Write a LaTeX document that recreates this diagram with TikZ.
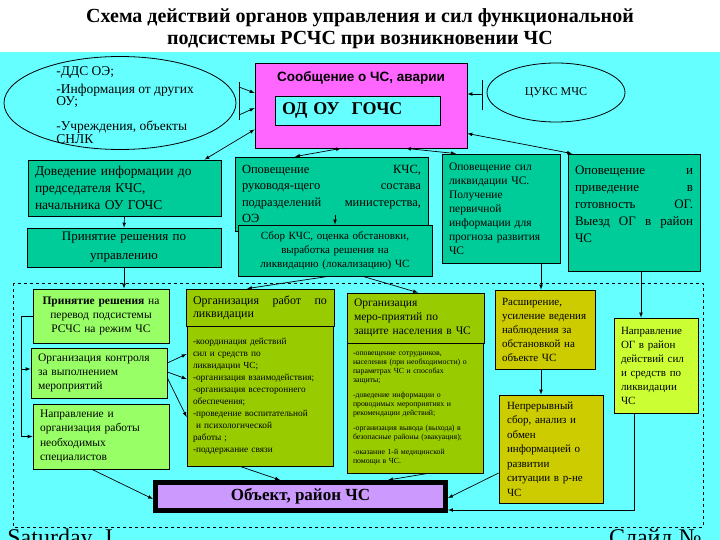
\documentclass[tikz,border=0pt]{standalone}
\usepackage{fontspec}
\setmainfont{Liberation Serif}
\setsansfont{Liberation Sans}
\usetikzlibrary{shapes.geometric}

\definecolor{bgcyan}{HTML}{66FFFF}
\definecolor{msgpink}{HTML}{FF66FF}
\definecolor{tgreen}{HTML}{00CC99}
\definecolor{lgreen}{HTML}{99FF66}
\definecolor{cololive}{HTML}{99CC00}
\definecolor{ochre}{HTML}{CCCC00}
\definecolor{collime}{HTML}{CCFF33}
\definecolor{lilac}{HTML}{CC99FF}

\begin{document}
\begin{tikzpicture}[x=1pt,y=-1pt,>=latex,line width=0.8pt]
\tikzstyle{box}=[rectangle,draw,inner xsep=7pt,inner ysep=2pt]
\tikzstyle{oval}=[ellipse,draw,fill=bgcyan,inner sep=0pt]
\tikzstyle{link}=[->,line width=0.7pt]
\tikzstyle{both}=[<->,line width=0.7pt]
\useasboundingbox (0,0) rectangle (720,540);
\clip (0,0) rectangle (720,540);
\fill[white] (0,0) rectangle (720,52);
\fill[bgcyan] (0,52) rectangle (720,540);

\node[font=\fontsize{20}{22}\selectfont\bfseries,align=center] (title) at (360,29) {Схема действий органов управления и сил функциональной\\подсистемы РСЧС при возникновении ЧС};

% top row
\node[oval,minimum width=232pt,minimum height=93pt] (dds) at (120,103) {};
\node[anchor=north west,align=left,inner sep=0pt,font=\fontsize{13.5}{12}\selectfont] (ddstext) at (56,66) {-ДДС ОЭ;\\[5pt]-Информация от других\\[0pt]ОУ;\\[13pt]-Учреждения, объекты\\[1pt]СНЛК};
\node[box,fill=msgpink,minimum width=212pt,minimum height=85pt] (msg) at (361,105.5) {};
\node[font=\fontsize{13.5}{15}\selectfont\sffamily\bfseries] (msgtitle) at (361,78) {Сообщение о ЧС, аварии};
\node[box,fill=bgcyan,minimum width=165pt,minimum height=29pt,text width=151pt,align=left,font=\fontsize{18}{20}\selectfont\bfseries] (od) at (357.5,110.5) {ОД\ ОУ\ \ ГОЧС};
\node[oval,minimum width=138pt,minimum height=59pt,font=\fontsize{12}{14}\selectfont] (cuks) at (556,92.5) {ЦУКС МЧС};

\coordinate (ddsbarT) at (239,82);
\coordinate (ddsbarB) at (239,120);
\coordinate (ddsA) at (239,87);
\coordinate (ddsB) at (239,115);
\coordinate (cuksbarT) at (482,80);
\coordinate (cuksbarB) at (482,110);
\coordinate (cuksA) at (482,94);
\draw (ddsbarT) -- (ddsbarB);
\draw[link] (ddsA) -- ([yshift=12.5pt]msg.west);
\draw[link] (ddsB) -- ([yshift=-2.5pt]msg.west);
\draw (cuksbarT) -- (cuksbarB);
\draw[link] (cuksA) -- ([yshift=11.5pt]msg.east);

% second row
\node[box,fill=tgreen,minimum width=193pt,minimum height=56pt,text width=179pt,align=left,font=\fontsize{13.5}{17}\selectfont] (dov) at (124.5,188) {Доведение информации до\\председателя КЧС,\\начальника ОУ ГОЧС};
\node[box,fill=tgreen,minimum width=194pt,minimum height=39pt,text width=180pt,align=center,font=\fontsize{13}{19}\selectfont] (prin) at (124,247.5) {Принятие решения по\\управлению};
\node[box,fill=tgreen,minimum width=193pt,minimum height=74pt,text width=179pt,align=left,font=\fontsize{12.5}{16.5}\selectfont] (opkcs) at (331.5,194) {Оповещение\hfill КЧС,\\руководя-щего\hfill состава\\подразделений\hfill министерства,\\ОЭ};
\node[box,fill=tgreen,minimum width=194pt,minimum height=51pt,text width=180pt,align=center,font=\fontsize{11}{14}\selectfont] (sbor) at (335,250.5) {Сбор КЧС, оценка обстановки,\\выработка решения на\\ликвидацию (локализацию) ЧС};
\node[box,fill=tgreen,minimum width=118pt,minimum height=109pt,text width=104pt,align=left,font=\fontsize{11.5}{14}\selectfont] (opsil) at (501,208.5) {Оповещение сил\\ликвидации ЧС.\\Получение\\первичной\\информации для\\прогноза развития\\ЧС};
\node[box,fill=tgreen,minimum width=132pt,minimum height=117pt,text width=118pt,align=left,font=\fontsize{13}{17}\selectfont] (opog) at (634,212.5) {Оповещение\hfill и\\приведение\hfill в\\готовность\hfill ОГ.\\Выезд\hfill ОГ\hfill в\hfill район\\ЧС\\~};

\draw[both] ([yshift=-24pt]msg.west) -- ([xshift=80pt]dov.north);
\draw[both] ([xshift=-20pt]msg.south) -- ([xshift=-36.5pt]opkcs.north);
\draw[both] ([xshift=45pt]msg.south) -- ([xshift=-45pt]opsil.north);
\draw[both] ([yshift=-28pt]msg.east) -- ([xshift=-62pt]opog.north);
\draw[link] (dov.south) -- (prin.north);
\draw[link] ([yshift=10pt]sbor.north) -- (sbor.north);

% lower part
\draw[dashed,line width=0.7pt] (13,283) rectangle (703,527);

\node[box,fill=lgreen,minimum width=136pt,minimum height=54pt,text width=122pt,align=center,font=\fontsize{11.5}{14}\selectfont] (pereh) at (101,316) {\textbf{Принятие решения} на\\перевод подсистемы\\РСЧС на режим ЧС};
\node[box,fill=lgreen,minimum width=136pt,minimum height=50pt,text width=122pt,align=left,font=\fontsize{11.5}{14}\selectfont] (kontr) at (99,373) {Организация контроля\\за выполнением\\мероприятий};
\node[box,fill=lgreen,minimum width=136pt,minimum height=65pt,text width=122pt,align=left,font=\fontsize{11.5}{14.5}\selectfont] (naprav) at (101,436.5) {Направление и\\организация работы\\необходимых\\специалистов};

\node[box,fill=cololive,minimum width=146pt,minimum height=140pt,text width=134pt,inner xsep=6pt,align=left,font=\fontsize{9.3}{12}\selectfont] (orgrb) at (260,396) {-координация действий\\сил и средств по\\ликвидации ЧС;\\-организация взаимодействия;\\-организация всестороннего\\обеспечения;\\-проведение воспитательной\\\ и психологической\\работы ;\\-поддержание связи};
\node[box,fill=cololive,minimum width=148pt,minimum height=37pt,text width=134pt,align=left,font=\fontsize{12}{13}\selectfont] (orgr) at (260,307.5) {Организация\hfill работ\hfill по\\ликвидации};

\node[box,fill=cololive,minimum width=136pt,minimum height=130pt,text width=124pt,inner xsep=6pt,align=left,font=\fontsize{7.8}{9}\selectfont] (orgmb) at (415,408) {-оповещение сотрудников,\\населения (при необходимости) о\\параметрах ЧС и способах\\защиты;\\[6pt]-доведение информации о\\проводимых мероприятиях и\\рекомендации действий;\\[6pt]-организация вывода (выхода) в\\безопасные районы (эвакуация);\\[6pt]-оказание 1-й медицинской\\помощи в ЧС.};
\node[box,fill=cololive,minimum width=137pt,minimum height=50pt,text width=123pt,align=left,font=\fontsize{11.5}{14}\selectfont] (orgm) at (415.5,318) {Организация\\меро-приятий по\\защите населения в ЧС};

\node[box,fill=ochre,minimum width=100pt,minimum height=79pt,text width=86pt,align=left,font=\fontsize{11}{14}\selectfont] (rassh) at (545,329.5) {Расширение,\\усиление ведения\\наблюдения за\\обстановкой на\\объекте ЧС};
\node[box,fill=ochre,minimum width=104pt,minimum height=108pt,text width=88pt,inner xsep=8pt,align=left,font=\fontsize{11}{14.5}\selectfont] (nepr) at (551,449) {Непрерывный\\сбор, анализ и\\обмен\\информацией о\\развитии\\ситуации в р-не\\ЧС};
\node[box,fill=collime,minimum width=84pt,minimum height=95pt,text width=70pt,align=left,font=\fontsize{11}{14}\selectfont] (napog) at (656,365.5) {Направление\\ОГ в район\\действий сил\\и средств по\\ликвидации\\ЧС};

\node[rectangle,draw,line width=5pt,fill=lilac,minimum width=290pt,minimum height=28pt,font=\fontsize{17}{19}\selectfont\bfseries] (obj) at (300.5,496.5) {Объект, район ЧС};

\draw[link] (prin.south) -- (prin.south |- pereh.north);
\draw[link] (pereh.west) -- ++(-11,0) |- (naprav.west);
\draw[link] ([xshift=-9pt,yshift=4pt]kontr.west) -- ([yshift=4pt]kontr.west);
\draw[link] ([yshift=10pt]kontr.east) -- ([yshift=42pt]orgrb.west);
\draw[link] ([yshift=1pt]kontr.east) -- ([yshift=17pt]orgrb.west);
\draw[link] ([yshift=-5pt]kontr.east) -- ([yshift=-21pt]orgrb.west);
\draw[link] ([xshift=-7pt]sbor.south) -- ([xshift=-13pt]orgr.north);
\draw[link] ([xshift=28pt]sbor.south) -- ([xshift=2.5pt]orgm.north);
\draw[link] ([xshift=-4pt]opsil.south -| rassh.north) -- ([xshift=-4pt]rassh.north);
\draw[link] ([xshift=7pt]opog.south) -- ([xshift=7pt]opog.south |- napog.north);
\draw[link] ([xshift=-4pt]rassh.south) -- ([xshift=-4pt]rassh.south |- nepr.north);
\draw[link] ([xshift=-9pt]naprav.south) -- ([yshift=-2.5pt]obj.west);
\draw[link] ([xshift=-20pt]orgrb.south) -- ([xshift=-20.5pt]obj.north);
\draw[link] ([xshift=13pt]orgmb.south) -- ([xshift=87.5pt]obj.north);
\draw[link] ([yshift=-24pt]nepr.west) -- ([yshift=-1.5pt]obj.east);
\draw[link] ([xshift=-22pt]napog.south) |- ([yshift=-13.5pt]obj.east);

% footer
\node[anchor=base west,inner sep=0pt,font=\fontsize{24}{26}\selectfont] (date) at (7,545) {Saturday, J};
\node[anchor=base east,inner sep=0pt,font=\fontsize{24}{26}\selectfont] (slide) at (702,545) {Слайд №};
\end{tikzpicture}
\end{document}
